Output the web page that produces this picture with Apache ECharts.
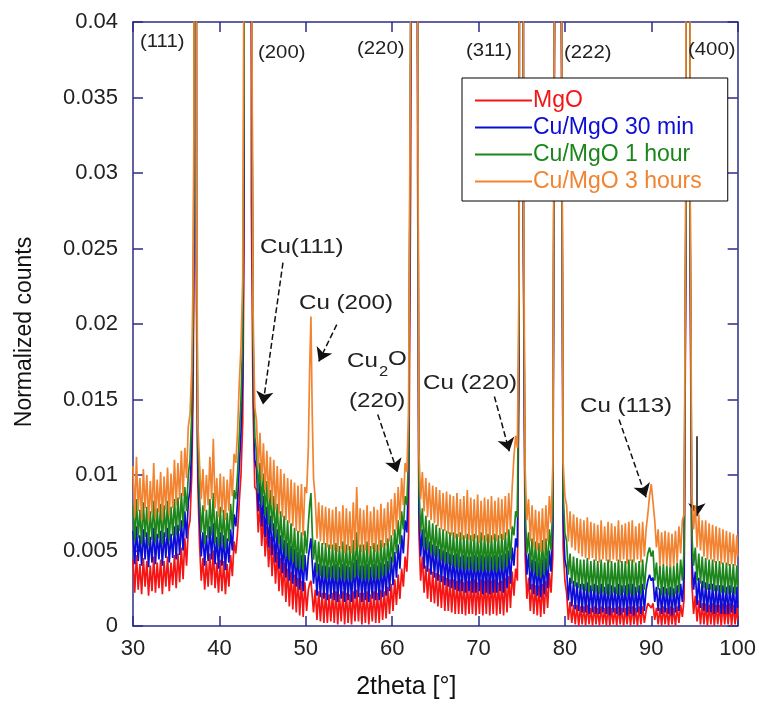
<!DOCTYPE html>
<html>
<head>
<meta charset="utf-8">
<script src="https://cdn.jsdelivr.net/npm/echarts@6/dist/echarts.min.js"></script>
<style>
html,body{margin:0;padding:0;background:#fff;}
#chart{width:759px;height:705px;}
</style>
</head>
<body>
<div id="chart"></div>
<script>
// 2theta positions (degrees) shared by all four patterns
const twoTheta = [
30.0,30.2,30.4,30.6,30.8,31.0,31.2,31.4,31.6,31.8,32.0,32.2,32.4,32.6,32.8,33.0,33.2,33.4,33.6,33.8,34.0,34.2,34.4,34.6,34.8,35.0,35.2,35.4,35.6,35.8,36.0,36.2,36.4,
36.6,36.8,36.95,37.05,37.2,37.35,37.5,37.7,37.9,
38.1,38.3,38.5,38.7,38.9,39.1,39.3,39.5,39.7,39.9,40.1,40.3,40.5,40.7,40.9,41.1,41.3,41.5,41.7,41.9,
42.1,42.3,42.5,42.7,42.85,43.3,43.7,43.9,44.1,
44.3,44.5,44.7,44.9,45.1,45.3,45.5,45.7,45.9,46.1,46.3,46.5,46.7,46.9,47.1,47.3,47.5,47.7,47.9,48.1,48.3,48.5,48.7,48.9,49.1,49.3,49.5,49.7,49.9,50.1,
50.3,50.45,50.6,50.75,50.9,
51.1,51.3,51.5,51.7,51.9,52.1,52.3,52.5,52.7,52.9,53.1,53.3,53.5,53.7,53.9,54.1,54.3,54.5,54.7,54.9,55.1,55.3,55.5,55.7,55.9,56.1,56.3,56.5,56.7,56.9,
57.1,57.3,57.5,57.7,57.9,58.1,58.3,58.5,58.7,58.9,59.1,59.3,59.5,59.7,59.9,60.1,60.3,60.5,60.7,60.9,61.1,61.3,61.5,61.7,61.9,
62.15,62.55,62.95,
63.1,63.3,63.5,63.7,63.9,64.1,64.3,64.5,64.7,64.9,65.1,65.3,65.5,65.7,65.9,66.1,66.3,66.5,66.7,66.9,67.1,67.3,67.5,67.7,67.9,68.1,68.3,68.5,68.7,68.9,
69.1,69.3,69.5,69.7,69.9,70.1,70.3,70.5,70.7,70.9,71.1,71.3,71.5,71.7,71.9,72.1,72.3,72.5,72.7,72.9,73.1,73.3,73.5,73.7,73.9,74.1,74.3,74.5,
74.7,74.95,75.2,
75.4,75.6,75.8,76.0,76.2,76.4,76.6,76.8,77.0,77.2,77.4,77.6,77.8,78.0,78.2,78.4,78.6,
78.8,79.2,79.6,
79.8,80.0,80.2,80.4,80.6,80.8,81.0,81.2,81.4,81.6,81.8,82.0,82.2,82.4,82.6,82.8,83.0,83.2,83.4,83.6,83.8,84.0,84.2,84.4,84.6,84.8,85.0,85.2,85.4,85.6,
85.8,86.0,86.2,86.4,86.6,86.8,87.0,87.2,87.4,87.6,87.8,88.0,88.2,88.4,88.6,88.8,89.0,89.2,89.4,89.6,89.8,90.0,90.2,90.4,90.6,90.8,91.0,91.2,91.4,91.6,
91.8,92.0,92.2,92.4,92.6,92.8,93.0,93.2,93.4,93.6,93.8,
94.0,94.25,94.5,
94.7,94.9,95.1,95.3,95.5,95.7,95.9,96.1,96.3,96.5,96.7,96.9,97.1,97.3,97.5,97.7,97.9,98.1,98.3,98.5,98.7,98.9,99.1,99.3,99.5,99.7,99.9,100.0];

const mgo = [
0.0044,0.0022,0.0047,0.0024,0.0041,0.0021,0.0045,0.0026,0.0043,0.0020,0.0040,0.0023,0.0046,0.0022,0.0042,0.0025,0.0044,0.0021,0.0043,0.0026,0.0046,0.0023,0.0042,0.0027,0.0047,0.0025,0.0048,0.0029,0.0052,0.0031,0.0058,0.0040,0.0064,
0.0070,0.0100,0.0150,0.0230,0.1500,0.0210,0.0095,0.0055,0.0030,
0.0045,0.0024,0.0043,0.0026,0.0048,0.0027,0.0050,0.0025,0.0042,0.0022,0.0044,0.0023,0.0043,0.0021,0.0041,0.0026,0.0047,0.0033,0.0056,0.0048,
0.0062,0.0082,0.0100,0.0135,0.0250,0.3800,0.0280,0.0145,0.0092,
0.0090,0.0062,0.0081,0.0053,0.0073,0.0046,0.0066,0.0039,0.0059,0.0033,0.0054,0.0028,0.0049,0.0023,0.0045,0.0020,0.0042,0.0016,0.0038,0.0013,0.0036,0.0011,0.0034,0.0009,0.0032,0.0007,0.0030,0.0006,0.0029,0.0010,
0.0024,0.0028,0.0030,0.0020,0.0009,
0.0024,0.0004,0.0023,0.0003,0.0022,0.0002,0.0022,0.0002,0.0021,0.0003,0.0022,0.0002,0.0023,0.0001,0.0021,0.0003,0.0023,0.0001,0.0022,0.0002,0.0021,0.0001,0.0023,0.0003,0.0024,0.0003,0.0022,0.0001,0.0022,0.0002,
0.0023,0.0001,0.0021,0.0003,0.0023,0.0002,0.0022,0.0002,0.0024,0.0004,0.0023,0.0005,0.0026,0.0008,0.0028,0.0010,0.0031,0.0014,0.0034,0.0018,0.0038,0.0026,0.0046,0.0036,0.0060,
0.0300,0.3200,0.0300,
0.0062,0.0030,0.0046,0.0022,0.0040,0.0018,0.0038,0.0016,0.0036,0.0015,0.0035,0.0013,0.0034,0.0012,0.0033,0.0010,0.0032,0.0010,0.0031,0.0009,0.0031,0.0008,0.0030,0.0008,0.0031,0.0008,0.0029,0.0007,0.0030,0.0008,
0.0030,0.0008,0.0031,0.0007,0.0029,0.0008,0.0031,0.0007,0.0030,0.0008,0.0031,0.0007,0.0030,0.0008,0.0031,0.0007,0.0029,0.0008,0.0030,0.0007,0.0032,0.0009,0.0033,0.0012,0.0036,0.0020,0.0038,0.0030,
0.0180,0.2400,0.0240,
0.0046,0.0018,0.0032,0.0010,0.0028,0.0008,0.0027,0.0007,0.0027,0.0006,0.0028,0.0008,0.0030,0.0012,0.0035,0.0022,0.0046,
0.0400,0.3800,0.0400,
0.0052,0.0030,0.0022,0.0004,0.0016,0.0002,0.0014,0.0001,0.0014,0.0000,0.0013,0.0001,0.0013,0.0000,0.0014,0.0001,0.0012,0.0000,0.0013,0.0001,0.0012,0.0000,0.0013,0.0001,0.0012,0.0000,0.0013,0.0000,0.0012,0.0001,
0.0012,0.0000,0.0013,0.0001,0.0012,0.0000,0.0012,0.0001,0.0013,0.0000,0.0013,0.0001,0.0012,0.0000,0.0013,0.0001,0.0013,0.0002,0.0010,0.0015,0.0016,0.0012,0.0015,0.0004,0.0012,0.0001,0.0012,0.0000,0.0013,0.0001,
0.0012,0.0000,0.0013,0.0001,0.0012,0.0000,0.0013,0.0002,0.0014,0.0006,0.0018,
0.0240,0.3000,0.0240,
0.0028,0.0008,0.0020,0.0003,0.0017,0.0001,0.0015,0.0001,0.0015,0.0000,0.0014,0.0001,0.0015,0.0000,0.0014,0.0001,0.0014,0.0000,0.0015,0.0001,0.0014,0.0001,0.0015,0.0000,0.0014,0.0001,0.0014,0.0004];

const cuMgO30min = [
0.0063,0.0041,0.0066,0.0043,0.0060,0.0040,0.0064,0.0044,0.0062,0.0039,0.0059,0.0042,0.0065,0.0041,0.0061,0.0044,0.0063,0.0040,0.0062,0.0045,0.0065,0.0042,0.0061,0.0045,0.0066,0.0044,0.0067,0.0047,0.0070,0.0050,0.0076,0.0058,0.0082,
0.0090,0.0120,0.0180,0.0260,0.1600,0.0240,0.0108,0.0072,0.0046,
0.0062,0.0040,0.0060,0.0043,0.0066,0.0044,0.0068,0.0041,0.0059,0.0038,0.0062,0.0040,0.0060,0.0037,0.0058,0.0042,0.0064,0.0050,0.0074,0.0066,
0.0082,0.0105,0.0128,0.0165,0.0300,0.4000,0.0440,0.0170,0.0110,
0.0104,0.0076,0.0095,0.0066,0.0086,0.0059,0.0079,0.0052,0.0073,0.0047,0.0068,0.0042,0.0064,0.0038,0.0060,0.0035,0.0057,0.0032,0.0055,0.0030,0.0053,0.0028,0.0051,0.0026,0.0049,0.0024,0.0047,0.0023,0.0047,0.0030,
0.0046,0.0052,0.0058,0.0042,0.0028,
0.0042,0.0020,0.0041,0.0019,0.0040,0.0018,0.0040,0.0017,0.0039,0.0018,0.0040,0.0017,0.0041,0.0016,0.0039,0.0018,0.0041,0.0016,0.0040,0.0017,0.0039,0.0016,0.0042,0.0018,0.0044,0.0019,0.0040,0.0016,0.0040,0.0017,
0.0041,0.0016,0.0039,0.0018,0.0041,0.0017,0.0040,0.0017,0.0042,0.0019,0.0041,0.0020,0.0043,0.0023,0.0046,0.0027,0.0049,0.0032,0.0054,0.0038,0.0060,0.0048,0.0070,0.0062,0.0096,
0.0380,0.3500,0.0380,
0.0078,0.0046,0.0064,0.0038,0.0059,0.0036,0.0056,0.0034,0.0054,0.0032,0.0053,0.0030,0.0051,0.0029,0.0050,0.0027,0.0049,0.0026,0.0048,0.0025,0.0047,0.0024,0.0048,0.0023,0.0046,0.0023,0.0047,0.0022,0.0046,0.0023,
0.0046,0.0022,0.0047,0.0022,0.0046,0.0023,0.0047,0.0021,0.0046,0.0022,0.0047,0.0021,0.0046,0.0022,0.0047,0.0022,0.0046,0.0023,0.0047,0.0022,0.0048,0.0025,0.0050,0.0028,0.0052,0.0040,0.0058,0.0052,
0.0200,0.2600,0.0260,
0.0062,0.0034,0.0048,0.0024,0.0044,0.0021,0.0043,0.0020,0.0042,0.0019,0.0044,0.0021,0.0045,0.0025,0.0050,0.0036,0.0064,
0.0420,0.4000,0.0420,
0.0070,0.0044,0.0038,0.0017,0.0032,0.0013,0.0030,0.0011,0.0029,0.0010,0.0028,0.0009,0.0028,0.0009,0.0029,0.0008,0.0027,0.0009,0.0028,0.0008,0.0027,0.0008,0.0028,0.0009,0.0026,0.0008,0.0028,0.0007,0.0027,0.0009,
0.0026,0.0008,0.0028,0.0007,0.0027,0.0009,0.0027,0.0007,0.0028,0.0008,0.0028,0.0007,0.0026,0.0009,0.0027,0.0008,0.0028,0.0010,0.0024,0.0030,0.0034,0.0030,0.0032,0.0016,0.0026,0.0010,0.0025,0.0008,0.0026,0.0009,
0.0025,0.0008,0.0026,0.0007,0.0025,0.0009,0.0027,0.0010,0.0028,0.0016,0.0034,
0.0260,0.3100,0.0260,
0.0044,0.0024,0.0036,0.0014,0.0032,0.0012,0.0030,0.0010,0.0029,0.0009,0.0028,0.0009,0.0028,0.0008,0.0027,0.0009,0.0027,0.0008,0.0027,0.0008,0.0026,0.0008,0.0027,0.0009,0.0026,0.0008,0.0026,0.0012];

const cuMgO1h = [
0.0080,0.0056,0.0084,0.0058,0.0077,0.0054,0.0082,0.0059,0.0079,0.0053,0.0076,0.0057,0.0083,0.0055,0.0078,0.0058,0.0081,0.0054,0.0080,0.0059,0.0083,0.0056,0.0079,0.0060,0.0084,0.0060,0.0085,0.0063,0.0088,0.0066,0.0092,0.0076,0.0100,
0.0110,0.0140,0.0200,0.0300,0.1800,0.0270,0.0120,0.0086,0.0062,
0.0080,0.0054,0.0077,0.0058,0.0084,0.0060,0.0088,0.0055,0.0076,0.0052,0.0079,0.0054,0.0077,0.0051,0.0075,0.0056,0.0081,0.0064,0.0090,0.0084,
0.0100,0.0125,0.0150,0.0190,0.0360,0.4500,0.0480,0.0190,0.0125,
0.0116,0.0088,0.0108,0.0080,0.0101,0.0073,0.0096,0.0067,0.0090,0.0063,0.0086,0.0058,0.0081,0.0054,0.0076,0.0050,0.0073,0.0046,0.0070,0.0044,0.0068,0.0042,0.0065,0.0039,0.0063,0.0038,0.0062,0.0037,0.0063,0.0048,
0.0068,0.0080,0.0088,0.0062,0.0044,
0.0057,0.0035,0.0056,0.0033,0.0055,0.0032,0.0055,0.0031,0.0054,0.0032,0.0054,0.0031,0.0055,0.0030,0.0053,0.0032,0.0056,0.0030,0.0054,0.0031,0.0053,0.0030,0.0057,0.0032,0.0062,0.0033,0.0054,0.0030,0.0054,0.0031,
0.0056,0.0030,0.0053,0.0032,0.0055,0.0031,0.0054,0.0031,0.0057,0.0033,0.0055,0.0034,0.0058,0.0037,0.0060,0.0042,0.0064,0.0048,0.0070,0.0054,0.0076,0.0064,0.0086,0.0080,0.0112,
0.0400,0.3800,0.0400,
0.0094,0.0062,0.0078,0.0052,0.0073,0.0050,0.0070,0.0048,0.0068,0.0046,0.0067,0.0045,0.0065,0.0043,0.0064,0.0042,0.0063,0.0041,0.0062,0.0040,0.0062,0.0039,0.0061,0.0038,0.0062,0.0038,0.0060,0.0037,0.0061,0.0038,
0.0060,0.0037,0.0061,0.0036,0.0060,0.0037,0.0062,0.0036,0.0060,0.0037,0.0061,0.0036,0.0060,0.0037,0.0061,0.0036,0.0060,0.0038,0.0061,0.0037,0.0062,0.0040,0.0064,0.0044,0.0066,0.0060,0.0076,0.0072,
0.0220,0.2800,0.0280,
0.0078,0.0048,0.0062,0.0038,0.0058,0.0035,0.0056,0.0033,0.0055,0.0032,0.0057,0.0034,0.0058,0.0038,0.0064,0.0050,0.0080,
0.0430,0.4200,0.0430,
0.0088,0.0062,0.0056,0.0034,0.0048,0.0028,0.0046,0.0026,0.0045,0.0025,0.0044,0.0024,0.0044,0.0023,0.0045,0.0022,0.0043,0.0023,0.0044,0.0022,0.0043,0.0021,0.0044,0.0022,0.0042,0.0021,0.0044,0.0020,0.0043,0.0022,
0.0042,0.0021,0.0044,0.0020,0.0043,0.0022,0.0043,0.0020,0.0044,0.0021,0.0044,0.0020,0.0042,0.0022,0.0043,0.0021,0.0044,0.0024,0.0040,0.0048,0.0052,0.0046,0.0050,0.0030,0.0042,0.0024,0.0040,0.0020,0.0041,0.0021,
0.0040,0.0020,0.0041,0.0019,0.0040,0.0021,0.0042,0.0022,0.0044,0.0030,0.0050,
0.0280,0.3300,0.0280,
0.0060,0.0040,0.0052,0.0030,0.0048,0.0028,0.0046,0.0025,0.0045,0.0024,0.0044,0.0024,0.0044,0.0023,0.0043,0.0023,0.0043,0.0022,0.0042,0.0022,0.0042,0.0021,0.0041,0.0022,0.0041,0.0021,0.0040,0.0026];

const cuMgO3h = [
0.0106,0.0072,0.0112,0.0076,0.0098,0.0070,0.0104,0.0078,0.0100,0.0069,0.0096,0.0074,0.0108,0.0071,0.0097,0.0075,0.0102,0.0070,0.0099,0.0077,0.0105,0.0073,0.0101,0.0078,0.0110,0.0080,0.0108,0.0084,0.0116,0.0086,0.0118,0.0098,0.0132,
0.0140,0.0170,0.0230,0.0330,0.2000,0.0300,0.0135,0.0108,0.0084,
0.0104,0.0076,0.0100,0.0080,0.0112,0.0084,0.0124,0.0078,0.0098,0.0072,0.0101,0.0075,0.0099,0.0070,0.0097,0.0076,0.0104,0.0086,0.0114,0.0108,
0.0128,0.0160,0.0185,0.0230,0.0450,0.5000,0.0500,0.0210,0.0145,
0.0136,0.0104,0.0128,0.0096,0.0121,0.0090,0.0116,0.0084,0.0112,0.0080,0.0110,0.0077,0.0106,0.0074,0.0104,0.0072,0.0101,0.0070,0.0098,0.0068,0.0097,0.0066,0.0095,0.0063,0.0093,0.0062,0.0094,0.0060,0.0092,0.0088,
0.0118,0.0170,0.0205,0.0140,0.0098,
0.0084,0.0058,0.0082,0.0056,0.0080,0.0054,0.0079,0.0052,0.0078,0.0051,0.0077,0.0050,0.0079,0.0049,0.0076,0.0051,0.0080,0.0048,0.0078,0.0050,0.0076,0.0048,0.0082,0.0050,0.0092,0.0052,0.0078,0.0049,0.0077,0.0050,
0.0080,0.0048,0.0076,0.0051,0.0079,0.0049,0.0077,0.0050,0.0081,0.0052,0.0078,0.0053,0.0082,0.0056,0.0084,0.0060,0.0088,0.0064,0.0092,0.0070,0.0098,0.0080,0.0108,0.0102,0.0140,
0.0420,0.4000,0.0420,
0.0116,0.0084,0.0102,0.0076,0.0098,0.0072,0.0095,0.0070,0.0093,0.0068,0.0092,0.0066,0.0090,0.0064,0.0088,0.0063,0.0089,0.0061,0.0087,0.0060,0.0086,0.0058,0.0088,0.0059,0.0084,0.0057,0.0086,0.0058,0.0090,0.0057,
0.0085,0.0056,0.0084,0.0058,0.0087,0.0055,0.0083,0.0057,0.0085,0.0056,0.0084,0.0055,0.0086,0.0057,0.0083,0.0056,0.0085,0.0058,0.0084,0.0057,0.0086,0.0060,0.0088,0.0064,0.0092,0.0112,0.0126,0.0118,
0.0240,0.3000,0.0300,
0.0104,0.0070,0.0084,0.0056,0.0080,0.0052,0.0077,0.0050,0.0076,0.0049,0.0078,0.0050,0.0080,0.0056,0.0086,0.0068,0.0106,
0.0450,0.4500,0.0450,
0.0108,0.0086,0.0080,0.0056,0.0076,0.0052,0.0074,0.0050,0.0072,0.0048,0.0071,0.0046,0.0070,0.0045,0.0072,0.0044,0.0069,0.0045,0.0068,0.0043,0.0067,0.0042,0.0070,0.0044,0.0066,0.0043,0.0069,0.0042,0.0068,0.0044,
0.0066,0.0043,0.0070,0.0042,0.0067,0.0044,0.0068,0.0041,0.0069,0.0043,0.0070,0.0042,0.0066,0.0044,0.0068,0.0042,0.0069,0.0046,0.0064,0.0074,0.0086,0.0094,0.0082,0.0070,0.0052,0.0064,0.0040,0.0062,0.0041,0.0063,
0.0040,0.0062,0.0039,0.0061,0.0040,0.0063,0.0042,0.0066,0.0048,0.0070,0.0074,
0.0300,0.3500,0.0300,
0.0088,0.0064,0.0080,0.0052,0.0074,0.0050,0.0070,0.0046,0.0070,0.0044,0.0068,0.0044,0.0067,0.0042,0.0066,0.0043,0.0065,0.0041,0.0064,0.0042,0.0063,0.0040,0.0062,0.0041,0.0061,0.0040,0.0060,0.0046];

const seriesNames = ['MgO', 'Cu/MgO 30 min', 'Cu/MgO 1 hour', 'Cu/MgO 3 hours'];
const seriesColors = ['#f51515', '#0d0dd6', '#1c861c', '#f28431'];
const seriesValues = [mgo, cuMgO30min, cuMgO1h, cuMgO3h];

// annotation arrows in data coordinates: [x1, y1, x2, y2, dashed]
const arrowSegments = [
  [47.36, 0.02406, 45.05, 0.01467, true],
  [53.59, 0.01996, 51.51, 0.01752, true],
  [58.33, 0.01401, 60.63, 0.01018, true],
  [71.84, 0.01520, 73.57, 0.01157, true],
  [86.27, 0.01368, 89.39, 0.00853, true],
  [95.28, 0.01256, 95.28, 0.00727, false]
];

const FONT = '"Liberation Sans", Arial, Helvetica, sans-serif';
const AXIS_COLOR = '#2c2c8a';
const TEXT_COLOR = '#222';

const chart = echarts.init(document.getElementById('chart'), null, {renderer: 'canvas'});

const series = seriesNames.map((name, k) => ({
  name: name,
  type: 'line',
  xAxisIndex: 0,
  yAxisIndex: 0,
  data: twoTheta.map((x, i) => [x, seriesValues[k][i]]),
  showSymbol: false,
  symbol: 'none',
  clip: true,
  z: 2 + k,
  lineStyle: {color: seriesColors[k], width: 1.7},
  itemStyle: {color: seriesColors[k]},
  emphasis: {disabled: true},
  animation: false
}));

series[3].markLine = {
  silent: true,
  animation: false,
  symbol: ['none', 'arrow'],
  symbolSize: 13,
  label: {show: false},
  lineStyle: {color: '#111', width: 1.5, type: [6, 3]},
  itemStyle: {color: '#111'},
  emphasis: {disabled: true},
  data: arrowSegments.map(s => [
    {coord: [s[0], s[1]], lineStyle: {type: s[4] ? [6, 3] : 'solid', color: '#111', width: 1.5}},
    {coord: [s[2], s[3]]}
  ])
};

// annotation texts: [text, left px, top px]
const peakLabels = [
  ['(111)', 140, 33], ['(200)', 258, 44], ['(220)', 357, 40],
  ['(311)', 466, 42], ['(222)', 564, 44], ['(400)', 688, 41]
];
const cuLabels = [
  ['Cu(111)', 260, 237], ['Cu (200)', 299, 293], ['(220)', 349, 391],
  ['Cu (220)', 423, 373], ['Cu (113)', 580, 396]
];

function txt(t, x, y, size, sx) {
  return {
    type: 'text', x: x, y: y, scaleX: sx, z: 100, silent: true,
    style: {text: t, x: 0, y: 0, font: size + 'px ' + FONT, fill: TEXT_COLOR,
            align: 'left', verticalAlign: 'top'}
  };
}
const graphics = [];
peakLabels.forEach(p => graphics.push(txt(p[0], p[1], p[2], 18, 1.13)));
cuLabels.forEach(p => graphics.push(txt(p[0], p[1], p[2], 21, 1.15)));
graphics.push(txt('Cu', 347, 351, 21, 1.15));
graphics.push(txt('2', 379, 364, 15, 1.1));
graphics.push(txt('O', 388, 349, 21, 1.15));

const option = {
  backgroundColor: '#ffffff',
  animation: false,
  grid: {left: 133, right: 20, top: 22, bottom: 78, containLabel: false},
  legend: {
    left: 462, top: 78,
    orient: 'vertical',
    backgroundColor: '#ffffff',
    borderColor: '#000',
    borderWidth: 1,
    borderRadius: 0,
    padding: [11, 26, 8, 13],
    itemGap: 4,
    itemWidth: 57,
    itemHeight: 2,
    icon: 'rect',
    selectedMode: false,
    z: 50,
    textStyle: {fontFamily: FONT, fontSize: 23, padding: [0, 0, 0, -4]},
    data: seriesNames.map((n, k) => ({name: n, textStyle: {color: seriesColors[k]}}))
  },
  xAxis: [{
    type: 'value', position: 'bottom', min: 30, max: 100, interval: 10,
    name: '2theta [°]', nameLocation: 'middle', nameGap: 49,
    nameTextStyle: {fontFamily: FONT, fontSize: 25, color: '#111', padding: [0, 58, 0, 0]},
    axisLine: {show: true, onZero: false, lineStyle: {color: AXIS_COLOR, width: 1.5}},
    axisTick: {show: true, inside: true, length: 10, lineStyle: {color: AXIS_COLOR, width: 1.5}},
    axisLabel: {fontFamily: FONT, fontSize: 22, color: TEXT_COLOR, margin: 12},
    splitLine: {show: false}
  }, {
    type: 'value', position: 'top', min: 30, max: 100, interval: 10,
    axisLine: {show: true, onZero: false, lineStyle: {color: AXIS_COLOR, width: 1.5}},
    axisTick: {show: true, inside: true, length: 10, lineStyle: {color: AXIS_COLOR, width: 1.5}},
    axisLabel: {show: false},
    splitLine: {show: false}
  }],
  yAxis: [{
    type: 'value', position: 'left', min: 0, max: 0.04, interval: 0.005,
    name: 'Normalized counts', nameLocation: 'middle', nameGap: 97, nameRotate: 90,
    nameTextStyle: {fontFamily: FONT, fontSize: 23, color: '#111', padding: [0, 16, 0, 0]},
    axisLine: {show: true, onZero: false, lineStyle: {color: AXIS_COLOR, width: 1.5}},
    axisTick: {show: true, inside: true, length: 10, lineStyle: {color: AXIS_COLOR, width: 1.5}},
    axisLabel: {fontFamily: FONT, fontSize: 22, color: TEXT_COLOR, margin: 15},
    splitLine: {show: false}
  }, {
    type: 'value', position: 'right', min: 0, max: 0.04, interval: 0.005,
    axisLine: {show: true, onZero: false, lineStyle: {color: AXIS_COLOR, width: 1.5}},
    axisTick: {show: true, inside: true, length: 10, lineStyle: {color: AXIS_COLOR, width: 1.5}},
    axisLabel: {show: false},
    splitLine: {show: false}
  }],
  graphic: graphics,
  series: series
};

chart.setOption(option);
</script>
</body>
</html>
